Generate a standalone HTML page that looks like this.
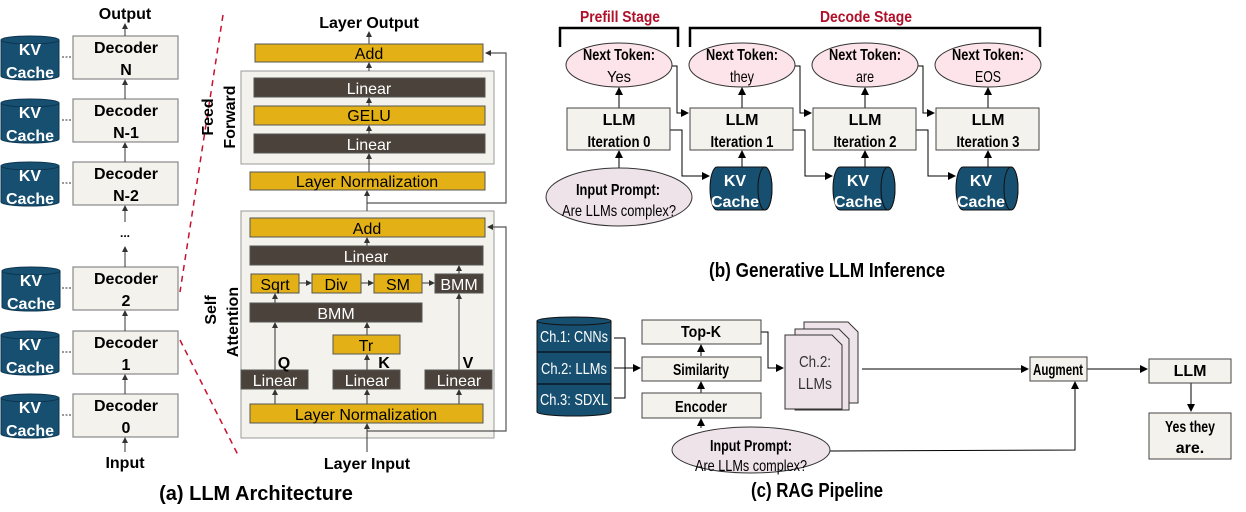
<!DOCTYPE html>
<html><head><meta charset="utf-8"><style>
html,body{margin:0;padding:0;background:#fff;}
svg{display:block;font-family:"Liberation Sans",sans-serif;}
</style></head><body>
<svg width="1246" height="512" viewBox="0 0 1246 512" xmlns="http://www.w3.org/2000/svg">
<defs>
<marker id="a" markerWidth="8" markerHeight="8" refX="7" refY="4" orient="auto" markerUnits="userSpaceOnUse"><path d="M0,0 L8,4 L0,8 z" fill="#000"/></marker>
<marker id="s" markerWidth="6" markerHeight="6" refX="5" refY="3" orient="auto" markerUnits="userSpaceOnUse"><path d="M0,0 L6,3 L0,6 z" fill="#333"/></marker>
</defs>
<!-- Panel a left -->
<g font-weight="bold" font-size="16" text-anchor="middle">
<text x="125" y="19">Output</text>
<text x="125" y="468">Input</text>
</g>
<g stroke="#888" stroke-width="1.2" fill="#f4f2ec">
<rect x="73" y="36" width="105" height="43"/><rect x="73" y="99" width="105" height="43"/><rect x="73" y="162" width="105" height="43"/>
<rect x="73" y="267" width="105" height="43"/><rect x="73" y="331" width="105" height="43"/><rect x="73" y="394" width="105" height="43"/>
</g>
<g font-weight="bold" font-size="16" text-anchor="middle">
<text x="126" y="53">Decoder</text><text x="126" y="75">N</text>
<text x="126" y="116">Decoder</text><text x="126" y="138">N-1</text>
<text x="126" y="179">Decoder</text><text x="126" y="201">N-2</text>
<text x="126" y="284">Decoder</text><text x="126" y="306">2</text>
<text x="126" y="348">Decoder</text><text x="126" y="370">1</text>
<text x="126" y="411">Decoder</text><text x="126" y="433">0</text>
<text x="125" y="237" font-size="12">...</text>
</g>
<g stroke="#333" stroke-width="1" marker-end="url(#s)">
<line x1="125" y1="36" x2="125" y2="24"/><line x1="125" y1="99" x2="125" y2="80"/><line x1="125" y1="162" x2="125" y2="143"/>
<line x1="125" y1="222" x2="125" y2="206"/><line x1="125" y1="267" x2="125" y2="247"/><line x1="125" y1="331" x2="125" y2="311"/>
<line x1="125" y1="394" x2="125" y2="375"/><line x1="125" y1="452" x2="125" y2="438"/>
</g>
<g fill="#174f70" stroke="#0d3550" stroke-width="1">
<path d="M1,40 v36 a29,4 0 0 0 58,0 v-36 z"/><ellipse cx="30" cy="40" rx="29" ry="4"/>
<path d="M1,103 v36 a29,4 0 0 0 58,0 v-36 z"/><ellipse cx="30" cy="103" rx="29" ry="4"/>
<path d="M1,166 v36 a29,4 0 0 0 58,0 v-36 z"/><ellipse cx="30" cy="166" rx="29" ry="4"/>
<path d="M2,271 v36 a29,4 0 0 0 58,0 v-36 z"/><ellipse cx="31" cy="271" rx="29" ry="4"/>
<path d="M1,335 v36 a29,4 0 0 0 58,0 v-36 z"/><ellipse cx="30" cy="335" rx="29" ry="4"/>
<path d="M1,398 v36 a29,4 0 0 0 58,0 v-36 z"/><ellipse cx="30" cy="398" rx="29" ry="4"/>
</g>
<g fill="#fff" font-weight="bold" font-size="16" text-anchor="middle">
<text x="30" y="55">KV</text><text x="30" y="78">Cache</text>
<text x="30" y="118">KV</text><text x="30" y="141">Cache</text>
<text x="30" y="181">KV</text><text x="30" y="204">Cache</text>
<text x="31" y="286">KV</text><text x="31" y="309">Cache</text>
<text x="30" y="350">KV</text><text x="30" y="373">Cache</text>
<text x="30" y="413">KV</text><text x="30" y="436">Cache</text>
</g>
<g stroke="#333" stroke-width="1" stroke-dasharray="2,1.5">
<line x1="62" y1="57" x2="72" y2="57"/><line x1="62" y1="120" x2="72" y2="120"/><line x1="62" y1="183" x2="72" y2="183"/>
<line x1="62" y1="288" x2="72" y2="288"/><line x1="62" y1="352" x2="72" y2="352"/><line x1="62" y1="415" x2="72" y2="415"/>
</g>
<g stroke="#c8102e" stroke-width="1.5" stroke-dasharray="6,5">
<line x1="223" y1="15" x2="180" y2="292"/><line x1="180" y1="340" x2="238" y2="455"/>
</g>
<!-- Panel a right -->
<g font-weight="bold" font-size="16" text-anchor="middle">
<text x="369" y="28">Layer Output</text>
<text x="367" y="469">Layer Input</text>
<text x="256" y="500" font-size="20">(a) LLM Architecture</text>
</g>
<rect x="241" y="71" width="253" height="93" fill="#f4f2ec" stroke="#999" stroke-width="1"/>
<rect x="241" y="211" width="253" height="227" fill="#f4f2ec" stroke="#999" stroke-width="1"/>
<g stroke="#555" stroke-width="1.2" fill="none">
<polyline points="367,203 506,203 506,53 486,53" marker-end="url(#s)"/>
<polyline points="367,431 506,431 506,227 488,227" marker-end="url(#s)"/>
</g>
<g stroke="#333" stroke-width="1" marker-end="url(#s)">
<line x1="369" y1="44" x2="369" y2="32"/><line x1="369" y1="71" x2="369" y2="63"/>
<line x1="369" y1="106" x2="369" y2="98"/><line x1="369" y1="134" x2="369" y2="126"/><line x1="369" y1="172" x2="369" y2="154"/>
<line x1="367" y1="211" x2="367" y2="191"/>
<line x1="367" y1="246" x2="367" y2="238"/>
<line x1="459" y1="274" x2="459" y2="266"/>
<line x1="275" y1="303" x2="275" y2="294"/>
<line x1="299" y1="283" x2="311" y2="283"/><line x1="361" y1="283" x2="373" y2="283"/><line x1="422" y1="283" x2="434" y2="283"/>
<line x1="275" y1="370" x2="275" y2="323"/><line x1="367" y1="335" x2="367" y2="323"/><line x1="367" y1="370" x2="367" y2="355"/>
<line x1="459" y1="370" x2="459" y2="294"/>
<line x1="275" y1="404" x2="275" y2="390"/><line x1="367" y1="404" x2="367" y2="390"/><line x1="459" y1="404" x2="459" y2="390"/>
<line x1="367" y1="452" x2="367" y2="424"/>
</g>
<g stroke="#555" stroke-width="1">
<g fill="#e3b116">
<rect x="255" y="44" width="228" height="18"/><rect x="254" y="106" width="231" height="19"/>
<rect x="250" y="172" width="235" height="18"/><rect x="250" y="218" width="235" height="19"/>
<rect x="251" y="274" width="48" height="19"/><rect x="312" y="274" width="49" height="19"/><rect x="374" y="274" width="48" height="19"/>
<rect x="333" y="335" width="67" height="19"/><rect x="250" y="404" width="233" height="19"/>
</g>
<g fill="#4a423b">
<rect x="254" y="78" width="231" height="19"/><rect x="254" y="134" width="231" height="19"/>
<rect x="250" y="246" width="233" height="19"/><rect x="435" y="274" width="48" height="19"/>
<rect x="250" y="303" width="172" height="19"/>
<rect x="241" y="370" width="67" height="19"/><rect x="333" y="370" width="67" height="19"/><rect x="425" y="370" width="67" height="19"/>
</g>
</g>
<g font-size="16" text-anchor="middle">
<text x="369" y="59">Add</text><text x="369" y="121">GELU</text><text x="367" y="187">Layer Normalization</text>
<text x="367" y="234">Add</text><text x="275" y="290">Sqrt</text><text x="336" y="290">Div</text><text x="398" y="290">SM</text>
<text x="366" y="351">Tr</text><text x="366" y="420">Layer Normalization</text>
<g fill="#fff"><text x="369" y="94">Linear</text><text x="369" y="150">Linear</text><text x="366" y="262">Linear</text>
<text x="459" y="290">BMM</text><text x="336" y="319">BMM</text>
<text x="275" y="386">Linear</text><text x="367" y="386">Linear</text><text x="459" y="386">Linear</text></g>
</g>
<g font-weight="bold" font-size="16" text-anchor="middle">
<text x="284" y="368">Q</text><text x="384" y="368">K</text><text x="468" y="368">V</text>
<text transform="translate(213,117) rotate(-90)">Feed</text>
<text transform="translate(235,117) rotate(-90)">Forward</text>
<text transform="translate(216,310) rotate(-90)">Self</text>
<text transform="translate(238,322) rotate(-90)">Attention</text>
</g>
<!-- Panel b -->
<g fill="#b0102a" font-weight="bold" font-size="16" text-anchor="middle">
<text x="620" y="22" textLength="80" lengthAdjust="spacingAndGlyphs">Prefill Stage</text><text x="866" y="22" textLength="92" lengthAdjust="spacingAndGlyphs">Decode Stage</text>
</g>
<g stroke="#000" stroke-width="2.5" fill="none">
<polyline points="560,47 560,28 678,28 678,47"/><polyline points="690,47 690,28 1040,28 1040,47"/>
</g>
<g stroke="#000" stroke-width="1" fill="none">
<polyline points="672,66 677,66 677,113 688,113" marker-end="url(#a)"/>
<polyline points="795,66 800,66 800,113 811,113" marker-end="url(#a)"/>
<polyline points="918,66 923,66 923,113 934,113" marker-end="url(#a)"/>
<polyline points="670,130 682,130 682,176 709,176" marker-end="url(#a)"/>
<polyline points="793,130 805,130 805,176 832,176" marker-end="url(#a)"/>
<polyline points="916,130 928,130 928,176 955,176" marker-end="url(#a)"/>
<line x1="619" y1="108" x2="619" y2="88" marker-end="url(#a)"/>
<line x1="742" y1="108" x2="742" y2="88" marker-end="url(#a)"/>
<line x1="865" y1="108" x2="865" y2="88" marker-end="url(#a)"/>
<line x1="988" y1="108" x2="988" y2="88" marker-end="url(#a)"/>
<line x1="619" y1="168" x2="619" y2="151" marker-end="url(#a)"/>
<line x1="742" y1="167" x2="742" y2="151" marker-end="url(#a)"/>
<line x1="865" y1="167" x2="865" y2="151" marker-end="url(#a)"/>
<line x1="988" y1="167" x2="988" y2="151" marker-end="url(#a)"/>
</g>
<g stroke="#333" stroke-width="1" fill="#fce4ea">
<ellipse cx="619" cy="65" rx="53" ry="22"/><ellipse cx="742" cy="65" rx="53" ry="22"/>
<ellipse cx="865" cy="65" rx="53" ry="22"/><ellipse cx="988" cy="65" rx="53" ry="22"/>
<ellipse cx="619" cy="197" rx="73" ry="29" fill="#efe3ea"/>
</g>
<g stroke="#444" stroke-width="1" fill="#f4f2ec">
<rect x="567" y="108" width="103" height="42"/><rect x="690" y="108" width="103" height="42"/>
<rect x="813" y="108" width="103" height="42"/><rect x="936" y="108" width="103" height="42"/>
</g>
<g fill="#174f70" stroke="#111" stroke-width="1">
<path d="M717,167 h48 a7,21.5 0 0 1 0,43 h-48 a7,21.5 0 0 1 0,-43 z"/><ellipse cx="765" cy="188.5" rx="7" ry="21.5"/>
<path d="M840,167 h48 a7,21.5 0 0 1 0,43 h-48 a7,21.5 0 0 1 0,-43 z"/><ellipse cx="888" cy="188.5" rx="7" ry="21.5"/>
<path d="M963,167 h48 a7,21.5 0 0 1 0,43 h-48 a7,21.5 0 0 1 0,-43 z"/><ellipse cx="1011" cy="188.5" rx="7" ry="21.5"/>
</g>
<g font-size="16" text-anchor="middle">
<g font-weight="bold">
<text x="619" y="60" textLength="72" lengthAdjust="spacingAndGlyphs">Next Token:</text><text x="742" y="60" textLength="72" lengthAdjust="spacingAndGlyphs">Next Token:</text><text x="865" y="60" textLength="72" lengthAdjust="spacingAndGlyphs">Next Token:</text><text x="988" y="60" textLength="72" lengthAdjust="spacingAndGlyphs">Next Token:</text>
<text x="619" y="125">LLM</text><text x="619" y="147" textLength="63" lengthAdjust="spacingAndGlyphs">Iteration 0</text>
<text x="742" y="125">LLM</text><text x="742" y="147" textLength="63" lengthAdjust="spacingAndGlyphs">Iteration 1</text>
<text x="865" y="125">LLM</text><text x="865" y="147" textLength="63" lengthAdjust="spacingAndGlyphs">Iteration 2</text>
<text x="988" y="125">LLM</text><text x="988" y="147" textLength="63" lengthAdjust="spacingAndGlyphs">Iteration 3</text>
<text x="618" y="195" textLength="84" lengthAdjust="spacingAndGlyphs">Input Prompt:</text>
<g fill="#fff"><text x="735" y="186">KV</text><text x="735" y="207">Cache</text>
<text x="858" y="186">KV</text><text x="858" y="207">Cache</text>
<text x="981" y="186">KV</text><text x="981" y="207">Cache</text></g>
</g>
<text x="619" y="82" textLength="24" lengthAdjust="spacingAndGlyphs">Yes</text><text x="742" y="82" textLength="24" lengthAdjust="spacingAndGlyphs">they</text><text x="865" y="82" textLength="18" lengthAdjust="spacingAndGlyphs">are</text><text x="988" y="82" textLength="26" lengthAdjust="spacingAndGlyphs">EOS</text>
<text x="619" y="216" textLength="114" lengthAdjust="spacingAndGlyphs">Are LLMs complex?</text>
<text x="827" y="277" font-weight="bold" font-size="20" textLength="236" lengthAdjust="spacingAndGlyphs">(b) Generative LLM Inference</text>
</g>
<!-- Panel c -->
<g fill="#174f70" stroke="#111" stroke-width="1">
<path d="M537,321 v91 a37,4 0 0 0 74,0 v-91 z"/><ellipse cx="574" cy="321" rx="37" ry="4"/>
<line x1="537" y1="352" x2="611" y2="352" stroke="#000"/><line x1="537" y1="384" x2="611" y2="384" stroke="#000"/>
</g>
<g fill="#fff" font-size="16" text-anchor="middle">
<text x="574" y="342" textLength="68" lengthAdjust="spacingAndGlyphs">Ch.1: CNNs</text><text x="574" y="374" textLength="66" lengthAdjust="spacingAndGlyphs">Ch.2: LLMs</text><text x="574" y="405" textLength="68" lengthAdjust="spacingAndGlyphs">Ch.3: SDXL</text>
</g>
<g stroke="#000" stroke-width="1" fill="none">
<polyline points="614,338 625,338 625,398 614,398"/>
<line x1="614" y1="368" x2="640" y2="368" marker-end="url(#a)"/>
<line x1="701" y1="356" x2="701" y2="345" marker-end="url(#a)"/>
<line x1="701" y1="393" x2="701" y2="382" marker-end="url(#a)"/>
<line x1="701" y1="428" x2="701" y2="419" marker-end="url(#a)"/>
<polyline points="761,332 768,332 768,368 783,368" marker-end="url(#a)"/>
<line x1="862" y1="369" x2="1028" y2="369" marker-end="url(#a)"/>
<polyline points="830,451 1075,450 1075,382" marker-end="url(#a)"/>
<line x1="1087" y1="369" x2="1147" y2="369" marker-end="url(#a)"/>
<line x1="1191" y1="383" x2="1191" y2="411" marker-end="url(#a)"/>
</g>
<g stroke="#444" stroke-width="1" fill="#f4f2ec">
<rect x="642" y="320" width="119" height="24"/><rect x="642" y="357" width="119" height="24"/><rect x="642" y="393" width="119" height="25"/>
<rect x="1030" y="357" width="57" height="24"/><rect x="1149" y="359" width="82" height="24"/><rect x="1149" y="413" width="82" height="46"/>
</g>
<g stroke="#333" stroke-width="1" fill="#efe3ea">
<path d="M804,322 h44 l10,10 v71 h-54 z"/>
<path d="M795,329 h44 l10,10 v71 h-54 z"/>
<path d="M785,335 h47 l10,10 v64 h-57 z"/>
<ellipse cx="751" cy="450" rx="79" ry="23"/>
</g>
<g font-size="16" text-anchor="middle">
<g font-weight="bold">
<text x="701" y="337" textLength="40" lengthAdjust="spacingAndGlyphs">Top-K</text><text x="701" y="375" textLength="56" lengthAdjust="spacingAndGlyphs">Similarity</text><text x="701" y="412" textLength="52" lengthAdjust="spacingAndGlyphs">Encoder</text>
<text x="1058" y="375" textLength="50" lengthAdjust="spacingAndGlyphs">Augment</text><text x="1190" y="376">LLM</text>
<text x="1190" y="432" textLength="50" lengthAdjust="spacingAndGlyphs">Yes they</text><text x="1190" y="453">are.</text>
<text x="751" y="451" textLength="82" lengthAdjust="spacingAndGlyphs">Input Prompt:</text>
</g>
<text x="815" y="367" fill="#333" textLength="32" lengthAdjust="spacingAndGlyphs">Ch.2:</text><text x="815" y="389" fill="#333" textLength="34" lengthAdjust="spacingAndGlyphs">LLMs</text>
<text x="751" y="471" textLength="112" lengthAdjust="spacingAndGlyphs">Are LLMs complex?</text>
<text x="817" y="497" font-weight="bold" font-size="20" textLength="132" lengthAdjust="spacingAndGlyphs">(c) RAG Pipeline</text>
</g>
</svg>
</body></html>
